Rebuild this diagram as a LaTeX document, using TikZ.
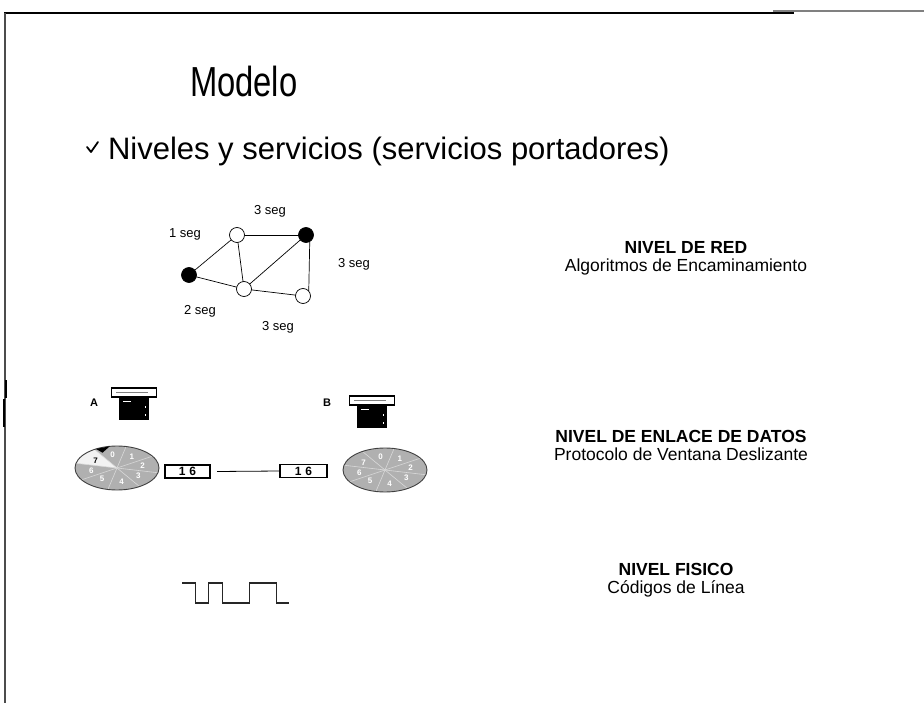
\documentclass[tikz,border=0pt]{standalone}
\usepackage{fontspec}
\setmainfont{Liberation Sans}
\begin{document}
\begin{tikzpicture}[x=1pt,y=-1pt,
  every node/.style={inner sep=0pt, outer sep=0pt},
  titletext/.style={anchor=base west, font=\fontsize{42}{42}\selectfont, xscale=0.78},
  subtext/.style={anchor=base west, font=\fontsize{31}{31}\selectfont},
  levelbox/.style={align=center, font=\fontsize{17.5}{18}\selectfont},
  opennode/.style={circle, draw, fill=white, line width=0.7pt, minimum size=15pt},
  fullnode/.style={circle, draw, fill=black, line width=0.7pt, minimum size=15pt},
  edge/.style={line width=0.7pt},
  seglabel/.style={font=\fontsize{13}{13}\selectfont},
  framebox/.style={draw, fill=white, line width=1.6pt, minimum height=13pt,
    font=\bfseries\fontsize{12}{12}\selectfont},
  rim/.style={draw=gray!50!black, line width=0.9pt},
  spoke/.style={draw=gray!30, line width=0.6pt},
  digit/.style={text=white, font=\bfseries\fontsize{8}{8}\selectfont},
  wave/.style={draw=gray!30!black, line width=1.2pt},
  pics/pc/.style={code={
    \draw[fill=white, line width=1.8pt] (-22.5,-10) rectangle (22.5,-1);
    \draw[gray, line width=0.8pt] (-18,-6) -- (14,-6);
    \fill[black] (-15,0) rectangle (15,22);
    \draw[white, line width=0.8pt] (-11,3) -- (-3,3);
    \fill[white] (11,8) rectangle (12,9.5);
    \fill[white] (11,16) rectangle (12,17.5);
  }}
]
\useasboundingbox (0,0) rectangle (924,703);

% page frame
\draw[line width=2.5pt] (4,13) -- (794,13);
\draw[gray, line width=2pt] (773,11) -- (924,11);
\draw[gray!60!black, line width=1.2pt] (5,13) -- (5,703);
\draw[black, line width=1.2pt] (6,380) -- (6,398);
\draw[black, line width=1.2pt] (4,399) -- (4,427);

% headings
\node[titletext] (title) at (190,97) {Modelo};
\draw[line width=1.8pt, line cap=round, line join=round] (87,147) -- (91,152) -- (98,142);
\node[subtext] (sub) at (108,160) {Niveles y servicios (servicios portadores)};

% network level graph
\node[opennode] (n1) at (237,235) {};
\node[fullnode] (n2) at (306,235) {};
\node[fullnode] (n3) at (189,275) {};
\node[opennode] (n4) at (244,289) {};
\node[opennode] (n5) at (303,296) {};
\draw[edge] (n3) -- (n1);
\draw[edge] (n3) -- (n4);
\draw[edge] (n1) -- (n2);
\draw[edge] (n1) -- (n4);
\draw[edge] (n4) -- (n2);
\draw[edge] (n4) -- (n5);
\draw[edge] (n2.-60) -- (n5.40);
\node[seglabel] (s1) at (270,211) {3 seg};
\node[seglabel] (s2) at (185,234) {1 seg};
\node[seglabel] (s3) at (354,264) {3 seg};
\node[seglabel] (s4) at (200,311) {2 seg};
\node[seglabel] (s5) at (278,327) {3 seg};

% data link level: stations
\node[font=\bfseries\fontsize{11}{11}\selectfont] (la) at (94,403) {A};
\pic at (134,398) {pc};
\node[font=\bfseries\fontsize{11}{11}\selectfont] (lb) at (327,403) {B};
\pic at (372,406) {pc};

% sliding window wheel, station A
\begin{scope}[shift={(117,468)}]
  \fill[gray!62] (0,0) ellipse [x radius=42, y radius=22];
  \fill[gray!10] (0,0) -- (-122.5:42 and 22) arc[start angle=-122.5, end angle=-167.5, x radius=42, y radius=22] -- cycle;
  \foreach \a in {-122.5,-77.5,-32.5,12.5,57.5,102.5,147.5,192.5}
    \draw[spoke] (0,0) -- (\a:42 and 22);
  \draw[rim] (0,0) ellipse [x radius=42, y radius=22];
  \fill[black] (-120:42 and 22) -- (-100:42 and 22) -- (-116:33 and 17) -- cycle;
  \foreach \k in {0,...,6}
    \node[digit] at ({45*\k-100}:26 and 13.5) {\k};
  \node[digit, text=black] at (-145:26 and 13.5) {7};
\end{scope}

% sliding window wheel, station B
\begin{scope}[shift={(385,470)}]
  \fill[gray!62] (0,0) ellipse [x radius=42, y radius=22];
  \foreach \a in {-122.5,-77.5,-32.5,12.5,57.5,102.5,147.5,192.5}
    \draw[spoke] (0,0) -- (\a:42 and 22);
  \draw[rim] (0,0) ellipse [x radius=42, y radius=22];
  \foreach \k in {0,...,7}
    \node[digit] at ({45*\k-100}:26 and 13.5) {\k};
\end{scope}

% frames on the link
\node[framebox, minimum width=45pt] (b1) at (187.5,471.5) {1\,\,6};
\node[framebox, minimum width=47pt] (b2) at (303.5,471) {1\,\,6};
\draw[line width=0.8pt] ([xshift=7pt]b1.east) -- (b2.west);

% physical level: line code
\draw[wave] (182,583) -- (195.5,583) -- (195.5,603) -- (208.5,603) -- (208.5,583)
  -- (222.5,583) -- (222.5,603) -- (249.5,603) -- (249.5,583) -- (276.5,583)
  -- (276.5,603) -- (289,603);

% level descriptions
\node[levelbox] (red) at (686,258) {\textbf{NIVEL DE RED}\\Algoritmos de Encaminamiento};
\node[levelbox] (enl) at (681,445) {\textbf{NIVEL DE ENLACE DE DATOS}\\Protocolo de Ventana Deslizante};
\node[levelbox] (fis) at (676,580) {\textbf{NIVEL FISICO}\\Códigos de Línea};
\end{tikzpicture}
\end{document}
